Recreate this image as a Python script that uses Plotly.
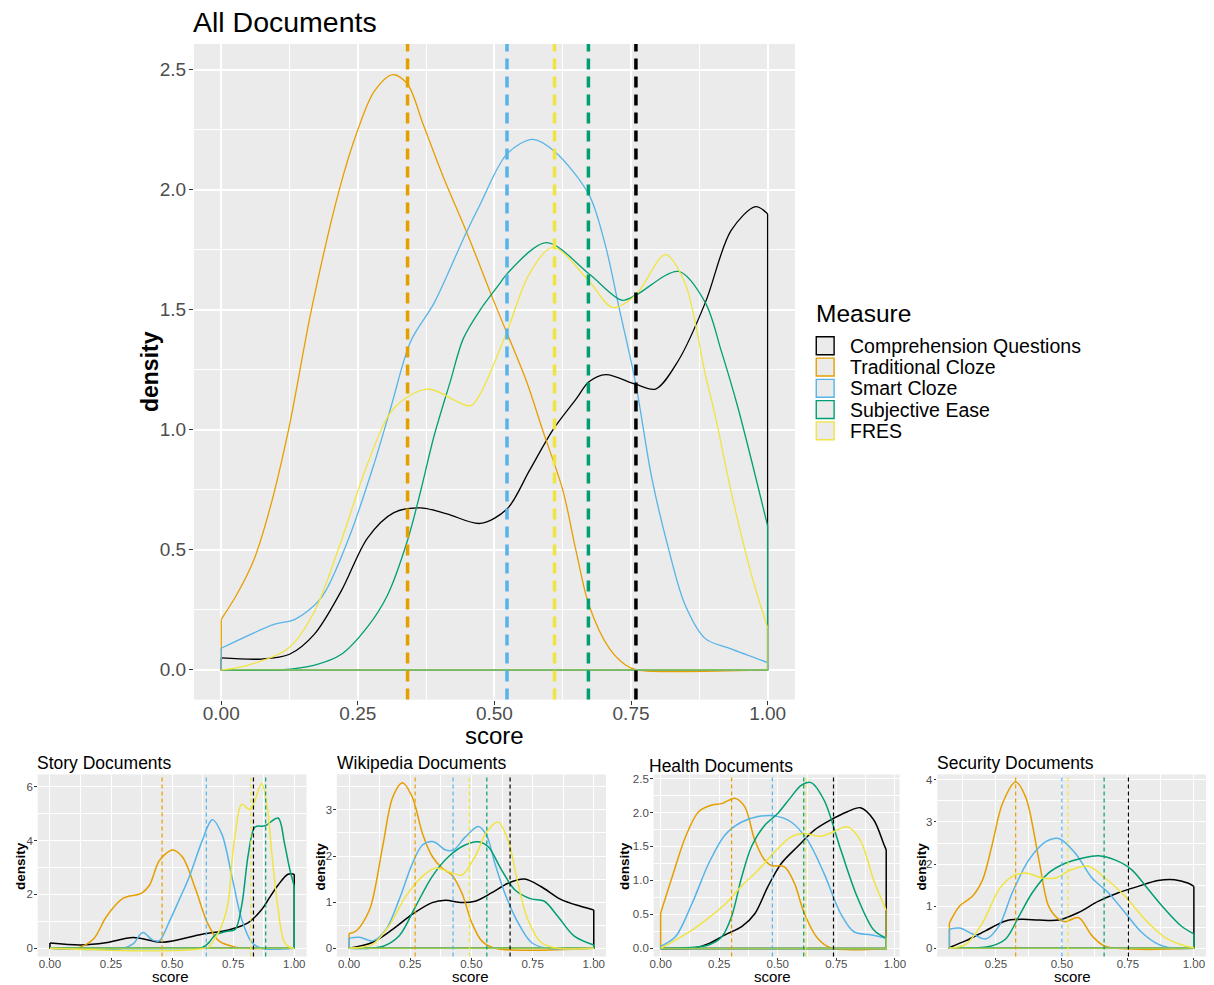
import plotly.graph_objects as go

FONT = "Liberation Sans, Arial, sans-serif"

MEASURES = ["Comprehension Questions", "Traditional Cloze", "Smart Cloze", "Subjective Ease", "FRES"]
COLORS = ["#000000", "#E69F00", "#56B4E9", "#009E73", "#F0E442"]

# ---------------- All Documents ----------------
ALL_CQ_X = [0, 0.074, 0.125, 0.171, 0.22, 0.268, 0.316, 0.365, 0.413, 0.474, 0.523, 0.564, 0.607, 0.65, 0.673, 0.704, 0.758, 0.795, 0.837, 0.886, 0.933, 0.978, 1.0]
ALL_CQ_Y = [0.05, 0.045, 0.065, 0.15, 0.33, 0.55, 0.655, 0.675, 0.65, 0.61, 0.67, 0.83, 1.0, 1.13, 1.20, 1.23, 1.19, 1.17, 1.29, 1.53, 1.83, 1.93, 1.90]
ALL_TC_X = [0, 0.03, 0.06, 0.09, 0.125, 0.165, 0.216, 0.25, 0.28, 0.314, 0.341, 0.37, 0.407, 0.448, 0.5, 0.559, 0.588, 0.625, 0.649, 0.673, 0.71, 0.74, 0.76, 1.0]
ALL_TC_Y = [0.21, 0.32, 0.46, 0.68, 1.02, 1.5, 2.0, 2.25, 2.41, 2.48, 2.44, 2.27, 2.05, 1.83, 1.53, 1.20, 1.0, 0.75, 0.5, 0.27, 0.09, 0.02, 0.0, 0.0]
ALL_SC_X = [0, 0.098, 0.135, 0.183, 0.232, 0.28, 0.31, 0.347, 0.39, 0.446, 0.474, 0.523, 0.57, 0.61, 0.673, 0.704, 0.728, 0.758, 0.788, 0.818, 0.849, 0.886, 0.933, 1.0]
ALL_SC_Y = [0.09, 0.19, 0.21, 0.30, 0.54, 0.86, 1.09, 1.37, 1.53, 1.81, 1.94, 2.15, 2.21, 2.16, 1.98, 1.76, 1.51, 1.20, 0.80, 0.51, 0.27, 0.13, 0.087, 0.03]
ALL_SE_X = [0, 0.108, 0.171, 0.22, 0.268, 0.304, 0.341, 0.365, 0.389, 0.419, 0.443, 0.474, 0.51, 0.523, 0.595, 0.673, 0.733, 0.758, 0.837, 0.886, 0.915, 0.946, 1.0]
ALL_SE_Y = [0, 0, 0.02, 0.065, 0.18, 0.31, 0.54, 0.745, 0.97, 1.20, 1.38, 1.50, 1.61, 1.65, 1.78, 1.65, 1.54, 1.56, 1.66, 1.53, 1.33, 1.09, 0.60]
ALL_FR_X = [0, 0.05, 0.123, 0.171, 0.22, 0.268, 0.316, 0.377, 0.456, 0.474, 0.523, 0.564, 0.607, 0.673, 0.716, 0.758, 0.813, 0.849, 0.886, 0.904, 0.933, 0.97, 1.0]
ALL_FR_Y = [0, 0.02, 0.09, 0.245, 0.54, 0.86, 1.09, 1.17, 1.10, 1.15, 1.41, 1.65, 1.76, 1.62, 1.51, 1.56, 1.73, 1.61, 1.23, 1.06, 0.745, 0.40, 0.175]
ALL_MEANS = [0.759, 0.341, 0.523, 0.672, 0.610]

# ---------------- Story Documents ----------------
STORY_CQ_X = [0, 0.125, 0.228, 0.34, 0.46, 0.623, 0.731, 0.812, 0.866, 0.893, 0.934, 0.974, 1.0]
STORY_CQ_Y = [0.19, 0.12, 0.2, 0.40, 0.22, 0.52, 0.68, 0.95, 1.43, 1.8, 2.35, 2.75, 2.75]
STORY_TC_X = [0, 0.11, 0.178, 0.232, 0.30, 0.374, 0.408, 0.448, 0.502, 0.543, 0.597, 0.644, 0.69, 0.758, 0.8, 1.0]
STORY_TC_Y = [0, 0, 0.34, 1.19, 1.86, 2.04, 2.35, 3.26, 3.65, 3.38, 2.17, 0.95, 0.28, 0.04, 0, 0]
STORY_SC_X = [0, 0.30, 0.34, 0.38, 0.421, 0.448, 0.489, 0.529, 0.57, 0.623, 0.664, 0.704, 0.745, 0.785, 0.826, 0.866, 1.0]
STORY_SC_Y = [0, 0, 0.16, 0.58, 0.30, 0.28, 1.0, 1.8, 2.65, 3.99, 4.78, 4.23, 2.65, 1.07, 0.22, 0, 0]
STORY_SE_X = [0, 0.6, 0.623, 0.65, 0.677, 0.72, 0.758, 0.785, 0.812, 0.839, 0.88, 0.934, 0.96, 0.98, 1.0]
STORY_SE_Y = [0, 0, 0.02, 0.2, 0.5, 0.62, 0.7, 1.6, 3.5, 4.5, 4.55, 4.84, 3.9, 3.0, 2.3]
STORY_FR_X = [0, 0.65, 0.67, 0.69, 0.71, 0.731, 0.745, 0.758, 0.785, 0.82, 0.866, 0.89, 0.907, 0.934, 0.96, 0.99, 1.0]
STORY_FR_Y = [0, 0.05, 0.3, 0.6, 1.0, 1.8, 3.2, 4.23, 5.35, 5.15, 6.12, 5.2, 3.63, 1.44, 0.22, 0, 0]
STORY_MEANS = [0.833, 0.459, 0.640, 0.883, 0.822]

# ---------------- Wikipedia Documents ----------------
WIKI_CQ_X = [0, 0.097, 0.178, 0.259, 0.34, 0.394, 0.461, 0.515, 0.582, 0.65, 0.717, 0.784, 0.865, 0.946, 1.0]
WIKI_CQ_Y = [0, 0.13, 0.41, 0.74, 0.99, 1.04, 0.99, 1.02, 1.2, 1.41, 1.5, 1.34, 1.06, 0.91, 0.83]
WIKI_TC_X = [0, 0.03, 0.084, 0.137, 0.178, 0.218, 0.259, 0.3, 0.34, 0.38, 0.42, 0.461, 0.501, 0.542, 0.596, 1.0]
WIKI_TC_Y = [0.32, 0.38, 0.84, 2.2, 3.27, 3.59, 3.27, 2.49, 1.99, 1.74, 1.59, 1.2, 0.56, 0.16, 0.0, 0.0]
WIKI_SC_X = [0, 0.043, 0.097, 0.151, 0.205, 0.259, 0.3, 0.346, 0.394, 0.427, 0.474, 0.528, 0.562, 0.596, 0.636, 0.69, 0.744, 0.798, 1.0]
WIKI_SC_Y = [0.22, 0.24, 0.16, 0.41, 1.06, 1.84, 2.24, 2.31, 2.13, 2.13, 2.41, 2.64, 2.45, 1.84, 1.2, 0.56, 0.13, 0.01, 0]
WIKI_SE_X = [0, 0.137, 0.205, 0.272, 0.34, 0.407, 0.474, 0.528, 0.569, 0.623, 0.677, 0.744, 0.798, 0.852, 0.919, 1.0]
WIKI_SE_Y = [0, 0.04, 0.27, 0.91, 1.56, 1.99, 2.24, 2.31, 2.2, 1.7, 1.27, 1.07, 1.02, 0.7, 0.27, 0.07]
WIKI_FR_X = [0, 0.097, 0.164, 0.232, 0.3, 0.353, 0.407, 0.461, 0.515, 0.562, 0.609, 0.65, 0.69, 0.73, 0.784, 0.852, 1.0]
WIKI_FR_Y = [0, 0.09, 0.49, 1.13, 1.56, 1.74, 1.66, 1.59, 1.99, 2.52, 2.74, 2.34, 1.41, 0.63, 0.13, 0, 0]
WIKI_MEANS = [0.658, 0.270, 0.425, 0.563, 0.492]

# ---------------- Health Documents ----------------
HEALTH_CQ_X = [0, 0.148, 0.205, 0.275, 0.346, 0.402, 0.458, 0.515, 0.585, 0.656, 0.726, 0.797, 0.853, 0.91, 0.952, 0.963]
HEALTH_CQ_Y = [0, 0.01, 0.07, 0.2, 0.32, 0.51, 0.91, 1.25, 1.5, 1.74, 1.89, 2.01, 2.07, 1.89, 1.54, 1.45]
HEALTH_TC_X = [0, 0.049, 0.106, 0.162, 0.219, 0.261, 0.317, 0.36, 0.402, 0.444, 0.472, 0.529, 0.571, 0.614, 0.67, 0.726, 0.963]
HEALTH_TC_Y = [0.52, 1.05, 1.64, 2.01, 2.11, 2.13, 2.21, 2.08, 1.59, 1.3, 1.22, 1.2, 0.96, 0.51, 0.15, 0.01, 0]
HEALTH_SC_X = [0, 0.063, 0.134, 0.205, 0.275, 0.346, 0.416, 0.487, 0.557, 0.628, 0.698, 0.769, 0.825, 0.896, 0.963]
HEALTH_SC_Y = [0.03, 0.17, 0.66, 1.25, 1.67, 1.86, 1.94, 1.95, 1.86, 1.59, 1.1, 0.51, 0.245, 0.2, 0.15]
HEALTH_SE_X = [0, 0.205, 0.261, 0.303, 0.346, 0.388, 0.444, 0.501, 0.557, 0.6, 0.642, 0.698, 0.769, 0.839, 0.91, 0.963]
HEALTH_SE_Y = [0, 0.05, 0.17, 0.47, 1.05, 1.5, 1.81, 1.99, 2.23, 2.4, 2.44, 2.18, 1.45, 0.76, 0.27, 0.15]
HEALTH_FR_X = [0, 0.134, 0.205, 0.275, 0.346, 0.416, 0.487, 0.557, 0.614, 0.684, 0.74, 0.797, 0.853, 0.91, 0.963]
HEALTH_FR_Y = [0, 0.27, 0.45, 0.65, 0.92, 1.15, 1.42, 1.64, 1.69, 1.65, 1.72, 1.79, 1.59, 1.0, 0.56]
HEALTH_MEANS = [0.738, 0.303, 0.477, 0.611, 0.620]

# ---------------- Security Documents ----------------
SEC_CQ_X = [0.074, 0.137, 0.212, 0.287, 0.35, 0.413, 0.488, 0.563, 0.639, 0.714, 0.789, 0.864, 0.927, 0.977, 1.0]
SEC_CQ_Y = [0.02, 0.18, 0.42, 0.65, 0.69, 0.67, 0.67, 0.85, 1.12, 1.32, 1.47, 1.61, 1.63, 1.55, 1.47]
SEC_TC_X = [0.074, 0.112, 0.162, 0.2, 0.237, 0.275, 0.325, 0.363, 0.413, 0.45, 0.488, 0.513, 0.563, 0.614, 0.664, 1.0]
SEC_TC_Y = [0.6, 1.0, 1.24, 1.63, 2.49, 3.44, 3.95, 3.59, 2.1, 1.0, 0.69, 0.63, 0.73, 0.3, 0.05, 0]
SEC_SC_X = [0.074, 0.112, 0.162, 0.212, 0.262, 0.312, 0.375, 0.438, 0.488, 0.551, 0.614, 0.676, 0.739, 0.802, 0.864, 0.927, 1.0]
SEC_SC_Y = [0.45, 0.48, 0.34, 0.22, 0.53, 1.32, 2.1, 2.53, 2.61, 2.26, 1.67, 1.32, 0.85, 0.38, 0.1, 0.0, 0.0]
SEC_SE_X = [0.074, 0.225, 0.287, 0.338, 0.388, 0.45, 0.513, 0.576, 0.639, 0.701, 0.764, 0.827, 0.89, 0.952, 1.0]
SEC_SE_Y = [0, 0.04, 0.22, 0.77, 1.32, 1.79, 2.02, 2.14, 2.2, 2.1, 1.87, 1.4, 0.93, 0.53, 0.34]
SEC_FR_X = [0.074, 0.137, 0.2, 0.262, 0.312, 0.363, 0.425, 0.476, 0.538, 0.601, 0.664, 0.739, 0.814, 0.89, 0.965, 1.0]
SEC_FR_Y = [0, 0.1, 0.61, 1.4, 1.71, 1.79, 1.67, 1.67, 1.87, 1.95, 1.67, 1.24, 0.69, 0.26, 0.06, 0.02]
SEC_MEANS = [0.752, 0.325, 0.500, 0.660, 0.523]

PANELS = [
    dict(series=[(ALL_CQ_X, ALL_CQ_Y), (ALL_TC_X, ALL_TC_Y), (ALL_SC_X, ALL_SC_Y), (ALL_SE_X, ALL_SE_Y), (ALL_FR_X, ALL_FR_Y)],
         means=ALL_MEANS, lw=1.3, dw=3.5, dash="11px,7px"),
    dict(series=[(STORY_CQ_X, STORY_CQ_Y), (STORY_TC_X, STORY_TC_Y), (STORY_SC_X, STORY_SC_Y), (STORY_SE_X, STORY_SE_Y), (STORY_FR_X, STORY_FR_Y)],
         means=STORY_MEANS, lw=1.5, dw=1.2, dash="4px,3px"),
    dict(series=[(WIKI_CQ_X, WIKI_CQ_Y), (WIKI_TC_X, WIKI_TC_Y), (WIKI_SC_X, WIKI_SC_Y), (WIKI_SE_X, WIKI_SE_Y), (WIKI_FR_X, WIKI_FR_Y)],
         means=WIKI_MEANS, lw=1.5, dw=1.2, dash="4px,3px"),
    dict(series=[(HEALTH_CQ_X, HEALTH_CQ_Y), (HEALTH_TC_X, HEALTH_TC_Y), (HEALTH_SC_X, HEALTH_SC_Y), (HEALTH_SE_X, HEALTH_SE_Y), (HEALTH_FR_X, HEALTH_FR_Y)],
         means=HEALTH_MEANS, lw=1.5, dw=1.2, dash="4px,3px"),
    dict(series=[(SEC_CQ_X, SEC_CQ_Y), (SEC_TC_X, SEC_TC_Y), (SEC_SC_X, SEC_SC_Y), (SEC_SE_X, SEC_SE_Y), (SEC_FR_X, SEC_FR_Y)],
         means=SEC_MEANS, lw=1.5, dw=1.2, dash="4px,3px"),
]

fig = go.Figure()

for i, p in enumerate(PANELS, start=1):
    xa = "x" if i == 1 else f"x{i}"
    ya = "y" if i == 1 else f"y{i}"
    for k, (xs, ys) in enumerate(p["series"]):
        fig.add_trace(go.Scatter(x=xs, y=ys, mode="lines", xaxis=xa, yaxis=ya,
                                 line=dict(color=COLORS[k], width=p["lw"], shape="spline", smoothing=0.9),
                                 showlegend=False, hoverinfo="skip"))
        fig.add_trace(go.Scatter(x=[xs[-1], xs[-1], xs[0], xs[0]], y=[ys[-1], 0, 0, ys[0]],
                                 mode="lines", xaxis=xa, yaxis=ya,
                                 line=dict(color=COLORS[k], width=p["lw"]),
                                 opacity=0.65 if k == 4 else 1.0,
                                 showlegend=False, hoverinfo="skip"))
    for k, m in enumerate(p["means"]):
        fig.add_shape(type="line", xref=xa, yref=f"{ya} domain", x0=m, x1=m, y0=0, y1=1,
                      line=dict(color=COLORS[k], width=p["dw"], dash=p["dash"]))

W, H = 1214, 985


def xdom(a, b):
    return [a / W, b / W]


def ydom(top, bottom):
    return [1 - bottom / H, 1 - top / H]


def axis(domain, rng, anchor, dtick, mdtick, fmt, fsize, tlen, gw, mgw, standoff):
    return dict(domain=domain, range=rng, anchor=anchor, tickmode="linear", tick0=0, dtick=dtick,
                tickformat=fmt, showgrid=True, gridcolor="white", gridwidth=gw,
                ticks="outside", ticklen=tlen, tickwidth=1, tickcolor="#333333",
                ticklabelstandoff=standoff,
                tickfont=dict(family=FONT, size=fsize, color="#4D4D4D"),
                zeroline=False, showline=False, fixedrange=True,
                minor=dict(showgrid=True, gridcolor="white", gridwidth=mgw, tick0=0, dtick=mdtick, ticks=""))


SMALL_Y = ydom(774, 956.5)
TF = 11.5
layout = dict(
    width=W, height=H, margin=dict(l=0, r=0, t=0, b=0),
    paper_bgcolor="white", plot_bgcolor="#EBEBEB",
    font=dict(family=FONT, color="black"),
    showlegend=False,
    xaxis=axis(xdom(191.5, 797.5), [-0.05, 1.05], "y", 0.25, 0.125, ".2f", 19, 4, 1.6, 0.7, -7),
    yaxis=axis(ydom(42, 699), [-0.124, 2.608], "x", 0.5, 0.25, ".1f", 19, 4, 1.6, 0.7, -1),
    xaxis2=axis(xdom(34, 305), [-0.05, 1.05], "y2", 0.25, 0.125, ".2f", TF, 2.5, 1.1, 0.5, -6),
    yaxis2=axis(SMALL_Y, [-0.31, 6.46], "x2", 2, 1, "d", TF, 2.5, 1.1, 0.5, -1),
    xaxis3=axis(xdom(335.6, 607), [-0.05, 1.05], "y3", 0.25, 0.125, ".2f", TF, 2.5, 1.1, 0.5, -6),
    yaxis3=axis(SMALL_Y, [-0.18, 3.77], "x3", 1, 0.5, "d", TF, 2.5, 1.1, 0.5, -1),
    xaxis4=axis(xdom(655, 903), [-0.03, 1.02], "y4", 0.25, 0.125, ".2f", TF, 2.5, 1.1, 0.5, -6),
    yaxis4=axis(SMALL_Y, [-0.12, 2.56], "x4", 0.5, 0.25, ".1f", TF, 2.5, 1.1, 0.5, -1),
    xaxis5=axis(xdom(941, 1212), [0.028, 1.046], "y5", 0.25, 0.125, ".2f", TF, 2.5, 1.1, 0.5, -6),
    yaxis5=axis(SMALL_Y, [-0.197, 4.13], "x5", 1, 0.5, "d", TF, 2.5, 1.1, 0.5, -1),
)
fig.update_layout(**layout)


def ann(text, x, y, size, angle=0, xanchor="center", bold=False):
    fig.add_annotation(text=f"<b>{text}</b>" if bold else text, x=x / W, y=1 - y / H,
                       xref="paper", yref="paper",
                       showarrow=False, textangle=angle, xanchor=xanchor, yanchor="middle",
                       font=dict(family=FONT, size=size, color="black"))


ann("All Documents", 189, 20, 28.5, xanchor="left")
ann("score", 495, 735, 24)
ann("density", 147, 370, 23, angle=-90, bold=True)

SMALL_TITLES = ["Story Documents", "Wikipedia Documents", "Health Documents", "Security Documents"]
title_pos = [(31, 763), (334, 763), (648, 766), (939, 763)]
score_pos = [(168, 976), (470, 976), (775, 976.5), (1077, 976)]
dens_pos = [(16, 866), (319, 866), (625, 866), (925, 866)]
for t, (tx, ty), (sx, sy), (dx, dy) in zip(SMALL_TITLES, title_pos, score_pos, dens_pos):
    ann(t, tx, ty, 17.5, xanchor="left")
    ann("score", sx, sy, 15)
    ann("density", dx, dy, 13.5, angle=-90, bold=True)

# legend (Measure) drawn as keys + labels
LEG_X, LEG_TOP, LEG_STEP, KEY = 819, 335.5, 21.3, 18
ann("Measure", LEG_X - 2, 312, 24.5, xanchor="left")
for k, name in enumerate(MEASURES):
    top = LEG_TOP + k * LEG_STEP
    fig.add_shape(type="rect", xref="paper", yref="paper",
                  x0=LEG_X / W, x1=(LEG_X + KEY) / W, y0=1 - (top + KEY) / H, y1=1 - top / H,
                  fillcolor="#EBEBEB", line=dict(color=COLORS[k], width=1.4))
    ann(name, LEG_X + 32, top + KEY / 2, 19.5, xanchor="left")

fig.write_html("out.html", config={"responsive": False, "displayModeBar": False},
               post_script="document.body.style.margin='0px';document.body.style.overflow='hidden';")
